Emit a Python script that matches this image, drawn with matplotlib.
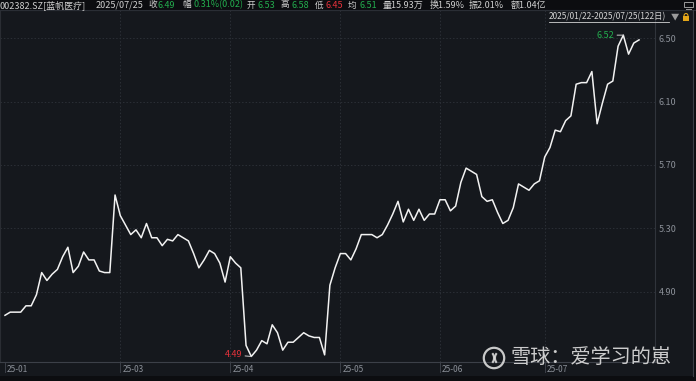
import matplotlib
matplotlib.use('Agg')
import matplotlib.pyplot as plt
from matplotlib.patches import Rectangle, Circle, Arc
from matplotlib.transforms import ScaledTranslation
import numpy as np

plt.rcParams['font.family'] = ['Noto Sans CJK SC', 'DejaVu Sans']

# ---------------- data ----------------
close = [4.75, 4.77, 4.77, 4.77, 4.81, 4.81, 4.88, 5.02, 4.97, 5.01,
         5.04, 5.12, 5.18, 5.02, 5.06, 5.15, 5.10, 5.10, 5.03, 5.02,
         5.02, 5.51, 5.38, 5.32, 5.26, 5.29, 5.24, 5.33, 5.24, 5.24,
         5.19, 5.23, 5.22, 5.26, 5.24, 5.22, 5.14, 5.05, 5.10, 5.16,
         5.14, 5.08, 4.96, 5.12, 5.08, 5.05, 4.56, 4.49, 4.53, 4.59,
         4.57, 4.69, 4.64, 4.53, 4.58, 4.58, 4.61, 4.64, 4.62, 4.61,
         4.61, 4.50, 4.94, 5.05, 5.14, 5.14, 5.10, 5.17, 5.26, 5.26,
         5.26, 5.24, 5.26, 5.32, 5.39, 5.47, 5.34, 5.42, 5.35, 5.42,
         5.35, 5.39, 5.39, 5.48, 5.48, 5.41, 5.44, 5.59, 5.68, 5.66,
         5.64, 5.50, 5.47, 5.48, 5.40, 5.33, 5.35, 5.43, 5.58, 5.56,
         5.54, 5.58, 5.60, 5.75, 5.81, 5.92, 5.91, 5.98, 6.01, 6.21,
         6.22, 6.22, 6.29, 5.96, 6.09, 6.21, 6.23, 6.45, 6.52, 6.40,
         6.47, 6.49]

month_idx = [0, 22, 43, 64, 83, 103]
month_labels = ['25-01', '25-03', '25-04', '25-05', '25-06', '25-07']
grid_idx = [22, 43, 64, 83, 103]

y_ticks = [4.90, 5.30, 5.70, 6.10, 6.50]
y_labels = ['4.90', '5.30', '5.70', '6.10', '6.50']

hi_idx, hi_val = 118, 6.52
lo_idx, lo_val = 47, 4.49

GREEN = '#23ad4e'
RED = '#e5323b'
LAB = '#cfcfcf'

header_items = [
    (0, '002382.SZ[蓝帆医疗]', LAB),
    (96, '2025/07/25', LAB),
    (148.5, '收', LAB), (158, '6.49', GREEN),
    (182.5, '幅', LAB), (194, '0.31%(0.02)', GREEN),
    (246.5, '开', LAB), (257, '6.53', GREEN),
    (280.5, '高', LAB), (292, '6.58', GREEN),
    (314.5, '低', LAB), (326, '6.45', RED),
    (347.5, '均', LAB), (359, '6.51', GREEN),
    (383, '量15.93万', LAB),
    (430, '换1.59%', LAB),
    (469, '振2.01%', LAB),
    (511, '额1.04亿', LAB),
]
range_text = '2025/01/22-2025/07/25(122日)'
watermark = '雪球：爱学习的崽'

# ---------------- layout ----------------
W, H = 696, 381
BG = '#15181d'
DARK = '#0c0d10'
GRID = '#2b2f36'

fig = plt.figure(figsize=(W / 100, H / 100), dpi=100, facecolor=BG)
ax = fig.add_axes([0 / W, (H - 362) / H, 655 / W, (362 - 9.5) / H], facecolor=BG)

x = np.arange(len(close))
ax.plot(x, close, color='#f2f2f2', lw=1.1, zorder=3)
ax.set_xlim(-5 / 5.24, 650 / 5.24)
ax.set_ylim(4.455, 6.682)

ax.set_yticks(y_ticks)
ax.set_yticklabels(y_labels)
ax.yaxis.tick_right()
ax.tick_params(axis='y', length=0, pad=2.5, labelsize=6.5, labelcolor='#8b9098')
ax.set_xticks([])
ax.grid(axis='y', color=GRID, linestyle=(0, (1.5, 2)), lw=0.7)
for gi in grid_idx:
    ax.axvline(gi, color=GRID, linestyle=(0, (1.5, 2)), lw=0.7, zorder=1)

for s in ['left', 'top']:
    ax.spines[s].set_color('#2a2d33')
    ax.spines[s].set_linewidth(0.8)
ax.spines['right'].set_color('#30343b')
ax.spines['right'].set_linewidth(0.8)
ax.spines['bottom'].set_color('#3c4048')
ax.spines['bottom'].set_linewidth(0.8)

xtr = ax.get_xaxis_transform()
off = ScaledTranslation(2 / 100, -1.5 / 100, fig.dpi_scale_trans)
for mi, ml in zip(month_idx, month_labels):
    ax.text(mi, -0.005, ml, transform=xtr + off, ha='left', va='top',
            fontsize=6, color='#8b9098', clip_on=False)
    ax.plot([mi, mi], [0, -10 / 352.5], transform=xtr, color='#3c4048',
            lw=0.7, clip_on=False)

ax.annotate(f'{hi_val:.2f}', xy=(hi_idx, hi_val), xytext=(-9, 0),
            textcoords='offset pixels', ha='right', va='center',
            color=GREEN, fontsize=6.5,
            arrowprops=dict(arrowstyle='-', color='#cfcfcf', lw=0.7,
                            shrinkA=0, shrinkB=0), zorder=4)
ax.annotate(f'{lo_val:.2f}', xy=(lo_idx, lo_val), xytext=(-9, 1.5),
            textcoords='offset pixels', ha='right', va='center',
            color=RED, fontsize=6.5,
            arrowprops=dict(arrowstyle='-', color='#cfcfcf', lw=0.7,
                            shrinkA=0, shrinkB=0), zorder=4)

# ---------------- overlay (header, watermark, borders) ----------------
ov = fig.add_axes([0, 0, 1, 1], facecolor='none')
ov.set_xlim(0, W)
ov.set_ylim(H, 0)
ov.axis('off')

ov.add_patch(Rectangle((0, 0), W, 9.5, color=DARK, lw=0))
ov.plot([0, W], [9.5, 9.5], color='#2a2e35', lw=0.8)
ov.add_patch(Rectangle((0, 376), W, 5, color=DARK, lw=0))
ov.add_patch(Rectangle((693, 0), 3, H, color=DARK, lw=0))
ov.plot([692.5, 692.5], [9.5, 376], color='#3a3e45', lw=0.8)

for hx, ht, hc in header_items:
    fs = 6.2 if len(ht) == 1 else 6.5
    ov.text(hx, 5, ht, color=hc, fontsize=fs, ha='left', va='center')

ov.text(549, 17, range_text, color='#d4d4d4', fontsize=6, ha='left', va='center')
ov.plot([549, 669], [21.6, 21.6], color='#d4d4d4', lw=0.6)
ov.text(671, 17, '▼', color='#9a9a9a', fontsize=6, ha='left', va='center')
# lock icon
ov.add_patch(Rectangle((683, 16), 6, 4.5, color='#e3a619', lw=0))
ov.add_patch(Arc((686, 16), 4, 5, theta1=180, theta2=360, color='#e3a619', lw=0.8))
# monitor icon
ov.add_patch(Rectangle((684, 1.5), 9, 5.5, fill=False, ec='#9a9a9a', lw=0.7))
ov.plot([686, 691], [8.5, 8.5], color='#9a9a9a', lw=0.7)

# watermark
WM = '#dcdcdc'
ov.add_patch(Circle((494, 358), 10.2, fill=False, ec=WM, lw=1.6, alpha=0.9))
ov.add_patch(Arc((489.5, 358), 9, 12, theta1=-60, theta2=60, color=WM, lw=1.5, alpha=0.9))
ov.add_patch(Arc((499.5, 358), 9, 12, theta1=120, theta2=240, color=WM, lw=1.5, alpha=0.9))
ov.text(510, 358.5, watermark, color=WM, fontsize=14.5, ha='left', va='center',
        alpha=0.92)

fig.savefig('out.png', dpi=100, facecolor=BG)
